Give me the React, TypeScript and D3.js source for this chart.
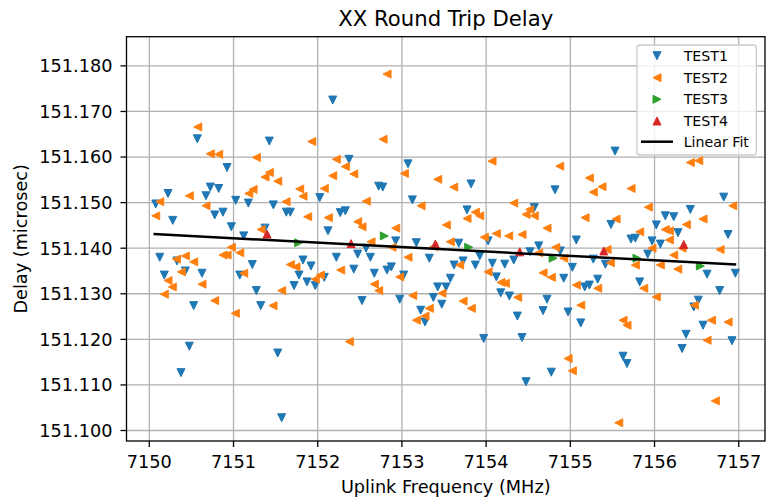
import React from "react";
import * as d3 from "d3";

// ── Data ──────────────────────────────────────────────────────────────────────

const xTicks = [7150, 7151, 7152, 7153, 7154, 7155, 7156, 7157];
const yTicks = [151.1, 151.11, 151.12, 151.13, 151.14, 151.15, 151.16, 151.17, 151.18];

// [frequency MHz, delay microsec]
const test1: [number, number][] = [
  [7150.570, 151.1640], [7151.425, 151.1635], [7150.923, 151.1577], [7150.222, 151.1520],
  [7150.724, 151.1534], [7150.824, 151.1531], [7150.673, 151.1515], [7150.076, 151.1497],
  [7151.026, 151.1505], [7151.176, 151.1499], [7151.473, 151.1495], [7151.627, 151.1479],
  [7151.675, 151.1479], [7150.278, 151.1461], [7150.777, 151.1473], [7150.875, 151.1479],
  [7150.974, 151.1447], [7151.374, 151.1444], [7151.121, 151.1427], [7152.178, 151.1725],
  [7152.372, 151.1595], [7153.072, 151.1585], [7152.024, 151.1511], [7152.724, 151.1536],
  [7152.772, 151.1534], [7153.124, 151.1506], [7152.268, 151.1478], [7152.328, 151.1482],
  [7152.122, 151.1438], [7152.926, 151.1416], [7153.171, 151.1412], [7153.675, 151.1411],
  [7155.531, 151.1613], [7153.821, 151.1541], [7154.818, 151.1528], [7154.572, 151.1489],
  [7153.773, 151.1484], [7155.483, 151.1452], [7154.023, 151.1416], [7155.071, 151.1418],
  [7156.822, 151.1512], [7156.425, 151.1485], [7156.128, 151.1471], [7156.228, 151.1469],
  [7156.021, 151.1451], [7156.279, 151.1434], [7155.721, 151.1420], [7155.772, 151.1422],
  [7155.970, 151.1416], [7156.069, 151.1409], [7156.873, 151.1430], [7150.124, 151.1380],
  [7150.329, 151.1372], [7151.223, 151.1364], [7150.178, 151.1341], [7150.428, 151.1350],
  [7150.626, 151.1345], [7151.074, 151.1341], [7151.271, 151.1307], [7150.527, 151.1274],
  [7151.323, 151.1274], [7150.475, 151.1185], [7151.525, 151.1170], [7150.376, 151.1127],
  [7151.572, 151.1028], [7152.574, 151.1400], [7151.825, 151.1374], [7151.920, 151.1361],
  [7152.221, 151.1380], [7152.475, 151.1387], [7152.625, 151.1380], [7153.325, 151.1378],
  [7152.428, 151.1354], [7152.672, 151.1345], [7152.823, 151.1352], [7152.874, 151.1359],
  [7153.021, 151.1341], [7151.778, 151.1341], [7151.719, 151.1318], [7152.078, 151.1336],
  [7151.873, 151.1326], [7151.971, 151.1318], [7152.526, 151.1285], [7152.974, 151.1288],
  [7153.575, 151.1334], [7153.425, 151.1315], [7153.524, 151.1315], [7153.373, 151.1292],
  [7153.473, 151.1277], [7153.223, 151.1264], [7153.274, 151.1238], [7153.619, 151.1363],
  [7153.726, 151.1372], [7154.625, 151.1405], [7154.521, 151.1392], [7154.881, 151.1394],
  [7155.273, 151.1376], [7155.416, 151.1365], [7153.872, 151.1363], [7153.924, 151.1383],
  [7154.074, 151.1367], [7154.221, 151.1365], [7154.328, 151.1374], [7155.024, 151.1358],
  [7154.121, 151.1337], [7154.922, 151.1334], [7155.171, 151.1315], [7155.226, 151.1319],
  [7155.325, 151.1332], [7154.173, 151.1302], [7154.276, 151.1295], [7154.723, 151.1288],
  [7154.371, 151.1251], [7154.676, 151.1263], [7154.973, 151.1260], [7155.124, 151.1236],
  [7153.971, 151.1202], [7154.426, 151.1204], [7154.774, 151.1128], [7154.474, 151.1107],
  [7155.919, 151.1387], [7156.624, 151.1343], [7156.960, 151.1345], [7155.824, 151.1326],
  [7156.774, 151.1307], [7156.520, 151.1286], [7156.466, 151.1271], [7156.576, 151.1231],
  [7156.374, 151.1211], [7156.920, 151.1197], [7156.327, 151.1180], [7155.626, 151.1163],
  [7155.673, 151.1147],
];

const test2: [number, number][] = [
  [7150.575, 151.1666], [7150.724, 151.1607], [7150.824, 151.1606], [7151.271, 151.1599],
  [7151.425, 151.1566], [7151.374, 151.1556], [7151.525, 151.1547], [7151.232, 151.1529],
  [7151.181, 151.1520], [7150.475, 151.1515], [7150.124, 151.1502], [7150.673, 151.1493],
  [7151.624, 151.1502], [7150.076, 151.1471], [7151.327, 151.1441], [7152.823, 151.1782],
  [7151.929, 151.1634], [7152.776, 151.1639], [7152.221, 151.1595], [7152.328, 151.1579],
  [7152.178, 151.1559], [7152.428, 151.1563], [7153.029, 151.1564], [7151.786, 151.1530],
  [7152.078, 151.1531], [7151.825, 151.1514], [7153.425, 151.1551], [7153.615, 151.1534],
  [7152.577, 151.1503], [7153.227, 151.1493], [7151.881, 151.1469], [7152.126, 151.1467],
  [7152.475, 151.1458], [7152.526, 151.1447], [7152.926, 151.1444], [7153.527, 151.1451],
  [7152.633, 151.1414], [7153.575, 151.1414], [7154.070, 151.1591], [7154.874, 151.1580],
  [7155.226, 151.1554], [7155.376, 151.1535], [7155.273, 151.1523], [7154.328, 151.1499],
  [7154.518, 151.1485], [7154.474, 151.1474], [7154.572, 151.1471], [7153.872, 151.1479],
  [7153.924, 151.1471], [7153.773, 151.1465], [7155.175, 151.1467], [7155.543, 151.1464],
  [7154.723, 151.1444], [7153.979, 151.1424], [7154.121, 151.1432], [7154.268, 151.1427],
  [7154.426, 151.1430], [7156.425, 151.1588], [7156.525, 151.1592], [7155.721, 151.1531],
  [7156.929, 151.1493], [7155.926, 151.1490], [7156.576, 151.1464], [7156.378, 151.1452],
  [7155.824, 151.1436], [7156.128, 151.1441], [7156.176, 151.1438], [7156.176, 151.1418],
  [7150.974, 151.1402], [7151.074, 151.1390], [7150.875, 151.1385], [7150.923, 151.1385],
  [7150.321, 151.1376], [7150.428, 151.1383], [7150.527, 151.1370], [7151.675, 151.1364],
  [7151.742, 151.1359], [7150.380, 151.1348], [7151.121, 151.1345], [7150.222, 151.1329],
  [7150.273, 151.1315], [7150.626, 151.1321], [7150.178, 151.1299], [7151.572, 151.1307],
  [7150.777, 151.1285], [7151.469, 151.1274], [7151.021, 151.1257], [7152.882, 151.1402],
  [7153.378, 151.1403], [7153.072, 151.1380], [7152.273, 151.1352], [7152.974, 151.1337],
  [7152.031, 151.1341], [7151.971, 151.1332], [7152.672, 151.1321], [7152.724, 151.1307],
  [7153.128, 151.1296], [7153.476, 151.1301], [7153.325, 151.1268], [7153.274, 151.1251],
  [7153.171, 151.1242], [7152.375, 151.1195], [7154.625, 151.1390], [7154.827, 151.1402],
  [7154.922, 151.1378], [7155.436, 151.1397], [7155.475, 151.1368], [7153.686, 151.1363],
  [7154.023, 151.1348], [7154.676, 151.1346], [7154.774, 151.1336], [7154.177, 151.1325],
  [7154.228, 151.1323], [7155.071, 151.1319], [7155.325, 151.1312], [7154.375, 151.1292],
  [7153.726, 151.1284], [7153.824, 151.1268], [7155.124, 151.1275], [7154.973, 151.1158],
  [7155.024, 151.1131], [7155.970, 151.1400], [7156.327, 151.1400], [7156.778, 151.1397],
  [7156.228, 151.1385], [7155.772, 151.1363], [7156.069, 151.1363], [7156.276, 151.1354],
  [7155.872, 151.1312], [7156.021, 151.1293], [7156.473, 151.1275], [7155.626, 151.1242],
  [7155.673, 151.1231], [7156.675, 151.1242], [7156.873, 151.1238], [7156.624, 151.1198],
  [7156.722, 151.1065], [7155.575, 151.1017],
];

const test3: [number, number][] = [
  [7151.774, 151.1412], [7152.791, 151.1427], [7153.793, 151.1402],
  [7154.795, 151.1378], [7155.792, 151.1378], [7156.544, 151.1361],
];

const test4: [number, number][] = [
  [7151.398, 151.1431], [7152.396, 151.1410], [7153.397, 151.1409],
  [7154.399, 151.1392], [7155.397, 151.1394], [7156.347, 151.1408],
];

const fitX = [7150.05, 7156.97];
const fitY = [151.1431, 151.1364];

// ── Layout ────────────────────────────────────────────────────────────────────

const W = 767;
const H = 500;
const PLOT = { left: 126.5, right: 765, top: 36.7, bottom: 441 };
const FONT = "'DejaVu Sans', sans-serif";
const TICK_FS = 17.7;
const C1 = "#1f77b4";
const C2 = "#ff7f0e";
const C3 = "#2ca02c";
const C4 = "#d62728";
const MS = 8; // marker size

type Dir = "down" | "left" | "right" | "up";

function tri(cx: number, cy: number, dir: Dir, s = MS): string {
  const h = s / 2;
  switch (dir) {
    case "down":
      return `M${cx - h},${cy - h}L${cx + h},${cy - h}L${cx},${cy + h}Z`;
    case "up":
      return `M${cx - h},${cy + h}L${cx + h},${cy + h}L${cx},${cy - h}Z`;
    case "left":
      return `M${cx + h},${cy - h}L${cx + h},${cy + h}L${cx - h},${cy}Z`;
    default:
      return `M${cx - h},${cy - h}L${cx - h},${cy + h}L${cx + h},${cy}Z`;
  }
}

export default function App() {
  const x = d3.scaleLinear().domain([7149.729, 7157.312]).range([PLOT.left, PLOT.right]);
  const y = d3.scaleLinear().domain([151.0977, 151.1864]).range([PLOT.bottom, PLOT.top]);

  const series: { data: [number, number][]; color: string; dir: Dir }[] = [
    { data: test1, color: C1, dir: "down" },
    { data: test2, color: C2, dir: "left" },
    { data: test3, color: C3, dir: "right" },
    { data: test4, color: C4, dir: "up" },
  ];

  const fitLine = d3
    .line<number>()
    .x((d) => x(d))
    .y((_, i) => y(fitY[i]))(fitX);

  const legendItems: { label: string; color: string; dir?: Dir }[] = [
    { label: "TEST1", color: C1, dir: "down" },
    { label: "TEST2", color: C2, dir: "left" },
    { label: "TEST3", color: C3, dir: "right" },
    { label: "TEST4", color: C4, dir: "up" },
    { label: "Linear Fit", color: "#000" },
  ];
  const legendY = [55.7, 77.7, 99.3, 121, 141.7];

  return (
    <svg
      width={W}
      height={H}
      style={{ position: "absolute", left: 0, top: 0, background: "#fff" }}
      fontFamily={FONT}
    >
      <rect x={0} y={0} width={W} height={H} fill="#fff" />

      {/* grid */}
      <g stroke="#b0b0b0" strokeWidth={1.3}>
        {xTicks.map((t) => (
          <line key={`gx${t}`} x1={x(t)} x2={x(t)} y1={PLOT.top} y2={PLOT.bottom} />
        ))}
        {yTicks.map((t) => (
          <line key={`gy${t}`} x1={PLOT.left} x2={PLOT.right} y1={y(t)} y2={y(t)} />
        ))}
      </g>

      {/* scatter series */}
      {series.map((s, si) => (
        <g key={si} fill={s.color} stroke={s.color} strokeWidth={1}>
          {s.data.map((d, i) => (
            <path key={i} d={tri(x(d[0]), y(d[1]), s.dir)} />
          ))}
        </g>
      ))}

      {/* linear fit */}
      <path d={fitLine ?? ""} fill="none" stroke="#000" strokeWidth={2.5} />

      {/* spines */}
      <rect
        x={PLOT.left}
        y={PLOT.top}
        width={PLOT.right - PLOT.left}
        height={PLOT.bottom - PLOT.top}
        fill="none"
        stroke="#000"
        strokeWidth={1.3}
      />

      {/* x axis */}
      <g fontSize={TICK_FS} fill="#000" textAnchor="middle">
        {xTicks.map((t) => (
          <g key={`tx${t}`}>
            <line x1={x(t)} x2={x(t)} y1={PLOT.bottom} y2={PLOT.bottom + 6} stroke="#000" strokeWidth={1.3} />
            <text x={x(t)} y={467.6}>{d3.format("d")(t)}</text>
          </g>
        ))}
      </g>

      {/* y axis */}
      <g fontSize={TICK_FS} fill="#000" textAnchor="end">
        {yTicks.map((t) => (
          <g key={`ty${t}`}>
            <line x1={PLOT.left - 6} x2={PLOT.left} y1={y(t)} y2={y(t)} stroke="#000" strokeWidth={1.3} />
            <text x={PLOT.left - 14} y={y(t)} dy="0.36em">{d3.format(".3f")(t)}</text>
          </g>
        ))}
      </g>

      {/* labels */}
      <text x={(PLOT.left + PLOT.right) / 2} y={25.5} fontSize={21.2} textAnchor="middle" fill="#000">
        XX Round Trip Delay
      </text>
      <text x={(PLOT.left + PLOT.right) / 2} y={493} fontSize={TICK_FS} textAnchor="middle" fill="#000">
        Uplink Frequency (MHz)
      </text>
      <text
        transform={`translate(21,${(PLOT.top + PLOT.bottom) / 2}) rotate(-90)`}
        fontSize={TICK_FS}
        textAnchor="middle"
        dy="0.35em"
        fill="#000"
      >
        Delay (microsec)
      </text>

      {/* legend */}
      <g>
        <rect x={637} y={45} width={119.3} height={110} rx={3} fill="#fff" fillOpacity={0.8} stroke="#cccccc" strokeWidth={1.3} />
        {legendItems.map((it, i) => (
          <g key={it.label}>
            {it.dir ? (
              <path d={tri(657, legendY[i], it.dir)} fill={it.color} stroke={it.color} strokeWidth={1} />
            ) : (
              <line x1={641} x2={673} y1={legendY[i]} y2={legendY[i]} stroke={it.color} strokeWidth={2.5} />
            )}
            <text x={683.7} y={legendY[i]} dy="0.35em" fontSize={14.2} fill="#000">
              {it.label}
            </text>
          </g>
        ))}
      </g>
    </svg>
  );
}
